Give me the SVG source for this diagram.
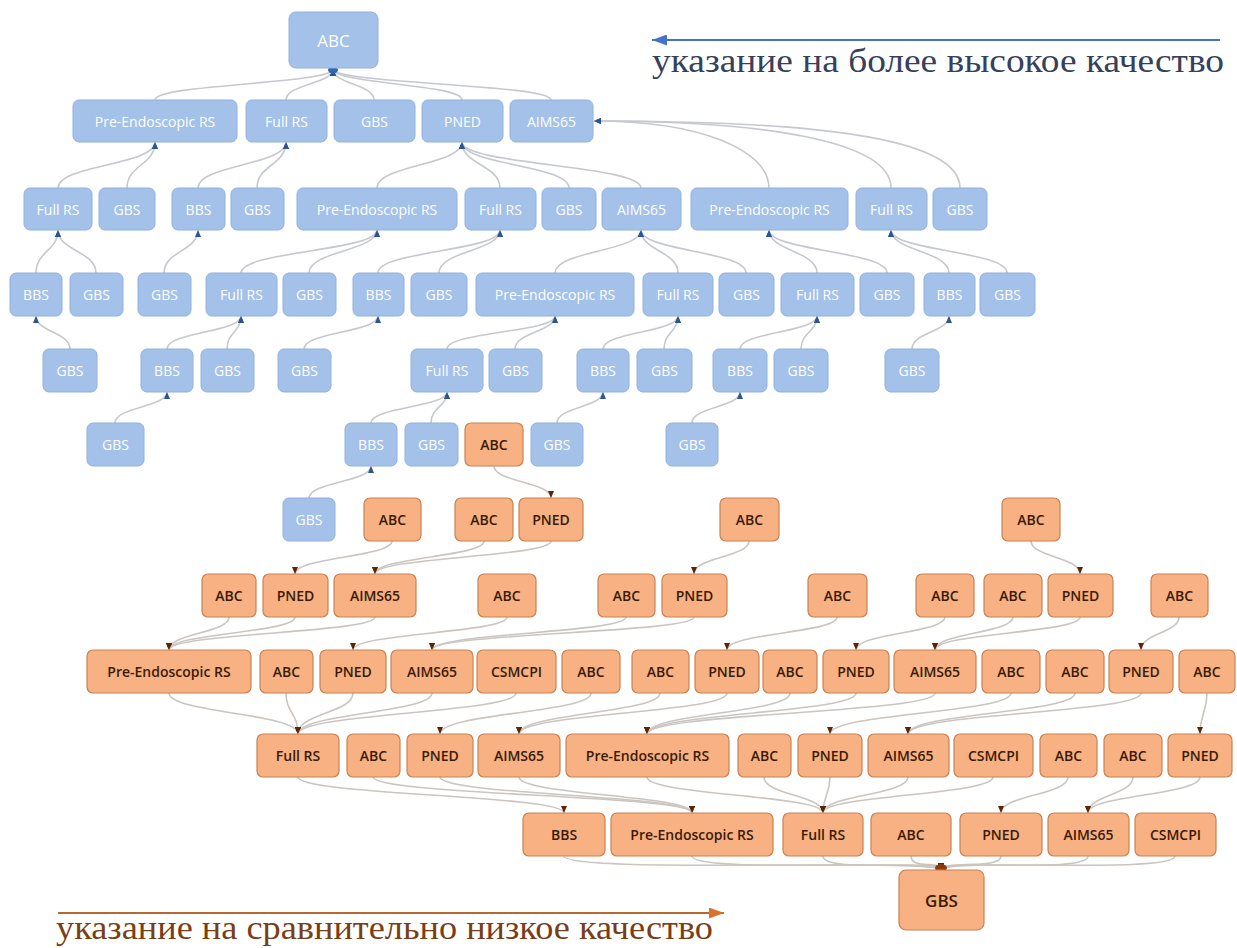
<svg xmlns="http://www.w3.org/2000/svg" width="1237" height="948" viewBox="0 0 1237 948">
<defs>
<marker id="ab" markerWidth="7" markerHeight="6" refX="7" refY="3" orient="auto" markerUnits="userSpaceOnUse"><path d="M0,0 L7,3 L0,6 z" fill="#2b5591"/></marker>
<marker id="ao" markerWidth="7" markerHeight="6" refX="7" refY="3" orient="auto" markerUnits="userSpaceOnUse"><path d="M0,0 L7,3 L0,6 z" fill="#5a260a"/></marker>
<marker id="capb" markerWidth="15" markerHeight="11" refX="15" refY="5.5" orient="auto" markerUnits="userSpaceOnUse"><path d="M0,0 L15,5.5 L0,11 z" fill="#4472c4"/></marker>
<marker id="capo" markerWidth="15" markerHeight="11" refX="15" refY="5.5" orient="auto" markerUnits="userSpaceOnUse"><path d="M0,0 L15,5.5 L0,11 z" fill="#d9722d"/></marker>
</defs>
<style>
.nb rect{fill:#a3c1e9;stroke:#90b0dd;stroke-width:1}
.nb text{fill:#ffffff;font-family:"Open Sans","Liberation Sans",sans-serif;font-size:14px;text-anchor:middle;dominant-baseline:central}
.no rect{fill:#f8b182;stroke:#c98152;stroke-width:1.2}
.no text{fill:#3a1a06;font-family:"Open Sans","Liberation Sans",sans-serif;font-size:14px;font-weight:600;text-anchor:middle;dominant-baseline:central}
.big text{font-size:17px}
.cb{fill:none;stroke:#c5c8ce;stroke-width:1.6;marker-end:url(#ab)}
.co{fill:none;stroke:#cbc4bf;stroke-width:1.6;marker-end:url(#ao)}
.cap{font-family:"Liberation Serif","DejaVu Serif",serif}
</style>
<rect width="1237" height="948" fill="#ffffff"/>

<g id="legend-high">
<path d="M1220,40 L652,40" stroke="#4472c4" stroke-width="2" fill="none" marker-end="url(#capb)"/>
<text class="cap" x="652" y="72" font-size="34" fill="#36405a" textLength="572" lengthAdjust="spacingAndGlyphs">указание на более высокое качество</text>
</g>
<g id="legend-low">
<path d="M58,913 L724,913" stroke="#b8682f" stroke-width="2" fill="none" marker-end="url(#capo)"/>
<text class="cap" x="56" y="939" font-size="34" fill="#7a3e17" textLength="657" lengthAdjust="spacingAndGlyphs">указание на сравнительно низкое качество</text>
</g>

<g id="connectors">
<path class="cb" d="M155,100 C155,84 333,84 333,69"/>
<path class="cb" d="M286,100 C286,84 333,84 333,69"/>
<path class="cb" d="M374,100 C374,84 333,84 333,69"/>
<path class="cb" d="M462,100 C462,84 333,84 333,69"/>
<path class="cb" d="M551,100 C551,84 333,84 333,69"/>
<path class="cb" d="M58,188 C58,165 155,165 155,142"/>
<path class="cb" d="M127,188 C127,165 155,165 155,142"/>
<path class="cb" d="M198,188 C198,165 286,165 286,142"/>
<path class="cb" d="M257,188 C257,165 286,165 286,142"/>
<path class="cb" d="M377,188 C377,165 462,165 462,142"/>
<path class="cb" d="M500,188 C500,165 462,165 462,142"/>
<path class="cb" d="M569,188 C569,165 462,165 462,142"/>
<path class="cb" d="M641,188 C641,165 462,165 462,142"/>
<path class="cb" d="M769,188 C769,150 700,121 594,121"/>
<path class="cb" d="M891,188 C891,140 760,121 594,121"/>
<path class="cb" d="M960,188 C960,135 800,121 594,121"/>
<path class="cb" d="M36,273 C36,251 58,251 58,230"/>
<path class="cb" d="M96,273 C96,251 58,251 58,230"/>
<path class="cb" d="M164,273 C164,251 198,251 198,230"/>
<path class="cb" d="M241,273 C241,251 377,251 377,230"/>
<path class="cb" d="M309,273 C309,251 377,251 377,230"/>
<path class="cb" d="M378,273 C378,251 500,251 500,230"/>
<path class="cb" d="M439,273 C439,251 500,251 500,230"/>
<path class="cb" d="M555,273 C555,251 641,251 641,230"/>
<path class="cb" d="M678,273 C678,251 641,251 641,230"/>
<path class="cb" d="M746,273 C746,251 641,251 641,230"/>
<path class="cb" d="M817,273 C817,251 769,251 769,230"/>
<path class="cb" d="M887,273 C887,251 769,251 769,230"/>
<path class="cb" d="M949,273 C949,251 891,251 891,230"/>
<path class="cb" d="M1007,273 C1007,251 891,251 891,230"/>
<path class="cb" d="M70,349 C70,332 36,332 36,316"/>
<path class="cb" d="M167,349 C167,332 241,332 241,316"/>
<path class="cb" d="M227,349 C227,332 241,332 241,316"/>
<path class="cb" d="M304,349 C304,332 378,332 378,316"/>
<path class="cb" d="M447,349 C447,332 555,332 555,316"/>
<path class="cb" d="M515,349 C515,332 555,332 555,316"/>
<path class="cb" d="M603,349 C603,332 678,332 678,316"/>
<path class="cb" d="M664,349 C664,332 678,332 678,316"/>
<path class="cb" d="M740,349 C740,332 817,332 817,316"/>
<path class="cb" d="M801,349 C801,332 817,332 817,316"/>
<path class="cb" d="M912,349 C912,332 949,332 949,316"/>
<path class="cb" d="M115,423 C115,407 167,407 167,392"/>
<path class="cb" d="M371,423 C371,407 447,407 447,392"/>
<path class="cb" d="M431,423 C431,407 447,407 447,392"/>
<path class="cb" d="M557,423 C557,407 603,407 603,392"/>
<path class="cb" d="M692,423 C692,407 740,407 740,392"/>
<path class="cb" d="M309,498 C309,482 371,482 371,466"/>
<ellipse cx="333" cy="70" rx="5" ry="3.5" fill="#2e66b0"/>

<path class="co" d="M494,466 C494,482 551,482 551,498"/>
<path class="co" d="M392,541 C392,557 295,557 295,574"/>
<path class="co" d="M484,541 C484,557 375,557 375,574"/>
<path class="co" d="M551,541 C551,557 375,557 375,574"/>
<path class="co" d="M749,541 C749,557 694,557 694,574"/>
<path class="co" d="M1031,541 C1031,557 1080,557 1080,574"/>
<path class="co" d="M229,617 C229,633 169,633 169,650"/>
<path class="co" d="M295,617 C295,633 169,633 169,650"/>
<path class="co" d="M375,617 C375,633 169,633 169,650"/>
<path class="co" d="M507,617 C507,633 353,633 353,650"/>
<path class="co" d="M626,617 C626,633 432,633 432,650"/>
<path class="co" d="M694,617 C694,633 432,633 432,650"/>
<path class="co" d="M837,617 C837,633 727,633 727,650"/>
<path class="co" d="M945,617 C945,633 856,633 856,650"/>
<path class="co" d="M1013,617 C1013,633 935,633 935,650"/>
<path class="co" d="M1080,617 C1080,633 935,633 935,650"/>
<path class="co" d="M1179,617 C1179,633 1141,633 1141,650"/>
<path class="co" d="M169,693 C169,713 298,713 298,734"/>
<path class="co" d="M286,693 C286,713 298,713 298,734"/>
<path class="co" d="M353,693 C353,713 298,713 298,734"/>
<path class="co" d="M432,693 C432,713 298,713 298,734"/>
<path class="co" d="M516,693 C516,713 298,713 298,734"/>
<path class="co" d="M591,693 C591,713 440,713 440,734"/>
<path class="co" d="M660,693 C660,713 519,713 519,734"/>
<path class="co" d="M727,693 C727,713 519,713 519,734"/>
<path class="co" d="M790,693 C790,713 647,713 647,734"/>
<path class="co" d="M856,693 C856,713 647,713 647,734"/>
<path class="co" d="M935,693 C935,713 647,713 647,734"/>
<path class="co" d="M1011,693 C1011,713 830,713 830,734"/>
<path class="co" d="M1075,693 C1075,713 908,713 908,734"/>
<path class="co" d="M1141,693 C1141,713 908,713 908,734"/>
<path class="co" d="M1207,693 C1207,713 1200,713 1200,734"/>
<path class="co" d="M298,777 C298,795 564,795 564,813"/>
<path class="co" d="M373,777 C373,795 692,795 692,813"/>
<path class="co" d="M440,777 C440,795 692,795 692,813"/>
<path class="co" d="M519,777 C519,795 692,795 692,813"/>
<path class="co" d="M647,777 C647,795 823,795 823,813"/>
<path class="co" d="M764,777 C764,795 823,795 823,813"/>
<path class="co" d="M830,777 C830,795 823,795 823,813"/>
<path class="co" d="M908,777 C908,795 823,795 823,813"/>
<path class="co" d="M993,777 C993,795 823,795 823,813"/>
<path class="co" d="M1068,777 C1068,795 1001,795 1001,813"/>
<path class="co" d="M1133,777 C1133,795 1088,795 1088,813"/>
<path class="co" d="M1200,777 C1200,795 1088,795 1088,813"/>
<path class="co" d="M564,856 C564,874 941,858 941,870"/>
<path class="co" d="M692,856 C692,874 941,858 941,870"/>
<path class="co" d="M823,856 C823,874 941,858 941,870"/>
<path class="co" d="M911,856 C911,870 941,860 941,870"/>
<path class="co" d="M1001,856 C1001,870 941,860 941,870"/>
<path class="co" d="M1088,856 C1088,874 941,858 941,870"/>
<path class="co" d="M1175,856 C1175,874 941,858 941,870"/>
<ellipse cx="941" cy="868" rx="6" ry="4" fill="#8a3a10"/>
</g>

<g id="b0" class="nb big"><rect x="289" y="12" width="89" height="56" rx="7"/><text x="333.5" y="40">ABC</text></g>
<g id="b1a" class="nb"><rect x="73" y="100" width="164" height="42" rx="6"/><text x="155" y="121">Pre-Endoscopic RS</text></g>
<g id="b1b" class="nb"><rect x="246" y="100" width="81" height="42" rx="6"/><text x="286.5" y="121">Full RS</text></g>
<g id="b1c" class="nb"><rect x="334" y="100" width="81" height="42" rx="6"/><text x="374.5" y="121">GBS</text></g>
<g id="b1d" class="nb"><rect x="422" y="100" width="81" height="42" rx="6"/><text x="462.5" y="121">PNED</text></g>
<g id="b1e" class="nb"><rect x="510" y="100" width="83" height="42" rx="6"/><text x="551.5" y="121">AIMS65</text></g>

<g id="b2a" class="nb"><rect x="24" y="188" width="68" height="42" rx="6"/><text x="58" y="209">Full RS</text></g>
<g id="b2b" class="nb"><rect x="99" y="188" width="56" height="42" rx="6"/><text x="127" y="209">GBS</text></g>
<g id="b2c" class="nb"><rect x="172" y="188" width="53" height="42" rx="6"/><text x="198.5" y="209">BBS</text></g>
<g id="b2d" class="nb"><rect x="231" y="188" width="53" height="42" rx="6"/><text x="257.5" y="209">GBS</text></g>
<g id="b2e" class="nb"><rect x="297" y="188" width="160" height="42" rx="6"/><text x="377" y="209">Pre-Endoscopic RS</text></g>
<g id="b2f" class="nb"><rect x="465" y="188" width="71" height="42" rx="6"/><text x="500.5" y="209">Full RS</text></g>
<g id="b2g" class="nb"><rect x="542" y="188" width="54" height="42" rx="6"/><text x="569" y="209">GBS</text></g>
<g id="b2h" class="nb"><rect x="602" y="188" width="79" height="42" rx="6"/><text x="641.5" y="209">AIMS65</text></g>
<g id="b2i" class="nb"><rect x="691" y="188" width="157" height="42" rx="6"/><text x="769.5" y="209">Pre-Endoscopic RS</text></g>
<g id="b2j" class="nb"><rect x="856" y="188" width="71" height="42" rx="6"/><text x="891.5" y="209">Full RS</text></g>
<g id="b2k" class="nb"><rect x="933" y="188" width="54" height="42" rx="6"/><text x="960" y="209">GBS</text></g>

<g id="b3a" class="nb"><rect x="10" y="273" width="52" height="43" rx="6"/><text x="36" y="294.5">BBS</text></g>
<g id="b3b" class="nb"><rect x="70" y="273" width="53" height="43" rx="6"/><text x="96.5" y="294.5">GBS</text></g>
<g id="b3c" class="nb"><rect x="138" y="273" width="53" height="43" rx="6"/><text x="164.5" y="294.5">GBS</text></g>
<g id="b3d" class="nb"><rect x="206" y="273" width="71" height="43" rx="6"/><text x="241.5" y="294.5">Full RS</text></g>
<g id="b3e" class="nb"><rect x="283" y="273" width="53" height="43" rx="6"/><text x="309.5" y="294.5">GBS</text></g>
<g id="b3f" class="nb"><rect x="353" y="273" width="51" height="43" rx="6"/><text x="378.5" y="294.5">BBS</text></g>
<g id="b3g" class="nb"><rect x="411" y="273" width="56" height="43" rx="6"/><text x="439" y="294.5">GBS</text></g>
<g id="b3h" class="nb"><rect x="476" y="273" width="158" height="43" rx="6"/><text x="555" y="294.5">Pre-Endoscopic RS</text></g>
<g id="b3i" class="nb"><rect x="643" y="273" width="70" height="43" rx="6"/><text x="678" y="294.5">Full RS</text></g>
<g id="b3j" class="nb"><rect x="719" y="273" width="55" height="43" rx="6"/><text x="746.5" y="294.5">GBS</text></g>
<g id="b3k" class="nb"><rect x="781" y="273" width="73" height="43" rx="6"/><text x="817.5" y="294.5">Full RS</text></g>
<g id="b3l" class="nb"><rect x="860" y="273" width="54" height="43" rx="6"/><text x="887" y="294.5">GBS</text></g>
<g id="b3m" class="nb"><rect x="924" y="273" width="51" height="43" rx="6"/><text x="949.5" y="294.5">BBS</text></g>
<g id="b3n" class="nb"><rect x="980" y="273" width="55" height="43" rx="6"/><text x="1007.5" y="294.5">GBS</text></g>

<g id="b4a" class="nb"><rect x="43" y="349" width="54" height="43" rx="6"/><text x="70" y="370.5">GBS</text></g>
<g id="b4b" class="nb"><rect x="141" y="349" width="52" height="43" rx="6"/><text x="167" y="370.5">BBS</text></g>
<g id="b4c" class="nb"><rect x="201" y="349" width="53" height="43" rx="6"/><text x="227.5" y="370.5">GBS</text></g>
<g id="b4d" class="nb"><rect x="278" y="349" width="53" height="43" rx="6"/><text x="304.5" y="370.5">GBS</text></g>
<g id="b4e" class="nb"><rect x="411" y="349" width="72" height="43" rx="6"/><text x="447" y="370.5">Full RS</text></g>
<g id="b4f" class="nb"><rect x="489" y="349" width="53" height="43" rx="6"/><text x="515.5" y="370.5">GBS</text></g>
<g id="b4g" class="nb"><rect x="577" y="349" width="52" height="43" rx="6"/><text x="603" y="370.5">BBS</text></g>
<g id="b4h" class="nb"><rect x="637" y="349" width="55" height="43" rx="6"/><text x="664.5" y="370.5">GBS</text></g>
<g id="b4i" class="nb"><rect x="713" y="349" width="54" height="43" rx="6"/><text x="740" y="370.5">BBS</text></g>
<g id="b4j" class="nb"><rect x="774" y="349" width="54" height="43" rx="6"/><text x="801" y="370.5">GBS</text></g>
<g id="b4k" class="nb"><rect x="885" y="349" width="54" height="43" rx="6"/><text x="912" y="370.5">GBS</text></g>

<g id="b5a" class="nb"><rect x="87" y="423" width="57" height="43" rx="6"/><text x="115.5" y="444.5">GBS</text></g>
<g id="b5b" class="nb"><rect x="345" y="423" width="52" height="43" rx="6"/><text x="371" y="444.5">BBS</text></g>
<g id="b5c" class="nb"><rect x="405" y="423" width="53" height="43" rx="6"/><text x="431.5" y="444.5">GBS</text></g>
<g id="o5" class="no"><rect x="465" y="423" width="58" height="43" rx="6"/><text x="494" y="444.5">ABC</text></g>
<g id="b5d" class="nb"><rect x="531" y="423" width="52" height="43" rx="6"/><text x="557" y="444.5">GBS</text></g>
<g id="b5e" class="nb"><rect x="666" y="423" width="52" height="43" rx="6"/><text x="692" y="444.5">GBS</text></g>

<g id="b6a" class="nb"><rect x="283" y="498" width="52" height="43" rx="6"/><text x="309" y="519.5">GBS</text></g>
<g id="o6a" class="no"><rect x="364" y="498" width="57" height="43" rx="6"/><text x="392.5" y="519.5">ABC</text></g>
<g id="o6b" class="no"><rect x="455" y="498" width="58" height="43" rx="6"/><text x="484" y="519.5">ABC</text></g>
<g id="o6c" class="no"><rect x="519" y="498" width="64" height="43" rx="6"/><text x="551" y="519.5">PNED</text></g>
<g id="o6d" class="no"><rect x="720" y="498" width="59" height="43" rx="6"/><text x="749.5" y="519.5">ABC</text></g>
<g id="o6e" class="no"><rect x="1002" y="498" width="58" height="43" rx="6"/><text x="1031" y="519.5">ABC</text></g>

<g id="o7a" class="no"><rect x="202" y="574" width="54" height="43" rx="6"/><text x="229" y="595.5">ABC</text></g>
<g id="o7b" class="no"><rect x="263" y="574" width="65" height="43" rx="6"/><text x="295.5" y="595.5">PNED</text></g>
<g id="o7c" class="no"><rect x="334" y="574" width="82" height="43" rx="6"/><text x="375" y="595.5">AIMS65</text></g>
<g id="o7d" class="no"><rect x="478" y="574" width="58" height="43" rx="6"/><text x="507" y="595.5">ABC</text></g>
<g id="o7e" class="no"><rect x="598" y="574" width="57" height="43" rx="6"/><text x="626.5" y="595.5">ABC</text></g>
<g id="o7f" class="no"><rect x="662" y="574" width="65" height="43" rx="6"/><text x="694.5" y="595.5">PNED</text></g>
<g id="o7g" class="no"><rect x="808" y="574" width="59" height="43" rx="6"/><text x="837.5" y="595.5">ABC</text></g>
<g id="o7h" class="no"><rect x="916" y="574" width="58" height="43" rx="6"/><text x="945" y="595.5">ABC</text></g>
<g id="o7i" class="no"><rect x="984" y="574" width="58" height="43" rx="6"/><text x="1013" y="595.5">ABC</text></g>
<g id="o7j" class="no"><rect x="1048" y="574" width="65" height="43" rx="6"/><text x="1080.5" y="595.5">PNED</text></g>
<g id="o7k" class="no"><rect x="1151" y="574" width="57" height="43" rx="6"/><text x="1179.5" y="595.5">ABC</text></g>

<g id="o8a" class="no"><rect x="87" y="650" width="164" height="43" rx="6"/><text x="169" y="671.5">Pre-Endoscopic RS</text></g>
<g id="o8b" class="no"><rect x="260" y="650" width="53" height="43" rx="6"/><text x="286.5" y="671.5">ABC</text></g>
<g id="o8c" class="no"><rect x="320" y="650" width="66" height="43" rx="6"/><text x="353" y="671.5">PNED</text></g>
<g id="o8d" class="no"><rect x="391" y="650" width="82" height="43" rx="6"/><text x="432" y="671.5">AIMS65</text></g>
<g id="o8e" class="no"><rect x="477" y="650" width="79" height="43" rx="6"/><text x="516.5" y="671.5">CSMCPI</text></g>
<g id="o8f" class="no"><rect x="562" y="650" width="58" height="43" rx="6"/><text x="591" y="671.5">ABC</text></g>
<g id="o8g" class="no"><rect x="632" y="650" width="57" height="43" rx="6"/><text x="660.5" y="671.5">ABC</text></g>
<g id="o8h" class="no"><rect x="695" y="650" width="64" height="43" rx="6"/><text x="727" y="671.5">PNED</text></g>
<g id="o8i" class="no"><rect x="763" y="650" width="54" height="43" rx="6"/><text x="790" y="671.5">ABC</text></g>
<g id="o8j" class="no"><rect x="823" y="650" width="66" height="43" rx="6"/><text x="856" y="671.5">PNED</text></g>
<g id="o8k" class="no"><rect x="894" y="650" width="82" height="43" rx="6"/><text x="935" y="671.5">AIMS65</text></g>
<g id="o8l" class="no"><rect x="982" y="650" width="58" height="43" rx="6"/><text x="1011" y="671.5">ABC</text></g>
<g id="o8m" class="no"><rect x="1046" y="650" width="58" height="43" rx="6"/><text x="1075" y="671.5">ABC</text></g>
<g id="o8n" class="no"><rect x="1109" y="650" width="64" height="43" rx="6"/><text x="1141" y="671.5">PNED</text></g>
<g id="o8o" class="no"><rect x="1179" y="650" width="56" height="43" rx="6"/><text x="1207" y="671.5">ABC</text></g>

<g id="o9a" class="no"><rect x="257" y="734" width="82" height="43" rx="6"/><text x="298" y="755.5">Full RS</text></g>
<g id="o9b" class="no"><rect x="347" y="734" width="53" height="43" rx="6"/><text x="373.5" y="755.5">ABC</text></g>
<g id="o9c" class="no"><rect x="407" y="734" width="66" height="43" rx="6"/><text x="440" y="755.5">PNED</text></g>
<g id="o9d" class="no"><rect x="478" y="734" width="82" height="43" rx="6"/><text x="519" y="755.5">AIMS65</text></g>
<g id="o9e" class="no"><rect x="566" y="734" width="163" height="43" rx="6"/><text x="647.5" y="755.5">Pre-Endoscopic RS</text></g>
<g id="o9f" class="no"><rect x="738" y="734" width="53" height="43" rx="6"/><text x="764.5" y="755.5">ABC</text></g>
<g id="o9g" class="no"><rect x="798" y="734" width="64" height="43" rx="6"/><text x="830" y="755.5">PNED</text></g>
<g id="o9h" class="no"><rect x="868" y="734" width="81" height="43" rx="6"/><text x="908.5" y="755.5">AIMS65</text></g>
<g id="o9i" class="no"><rect x="954" y="734" width="79" height="43" rx="6"/><text x="993.5" y="755.5">CSMCPI</text></g>
<g id="o9j" class="no"><rect x="1040" y="734" width="57" height="43" rx="6"/><text x="1068.5" y="755.5">ABC</text></g>
<g id="o9k" class="no"><rect x="1104" y="734" width="58" height="43" rx="6"/><text x="1133" y="755.5">ABC</text></g>
<g id="o9l" class="no"><rect x="1168" y="734" width="64" height="43" rx="6"/><text x="1200" y="755.5">PNED</text></g>

<g id="o10a" class="no"><rect x="523" y="813" width="82" height="43" rx="6"/><text x="564" y="834.5">BBS</text></g>
<g id="o10b" class="no"><rect x="611" y="813" width="162" height="43" rx="6"/><text x="692" y="834.5">Pre-Endoscopic RS</text></g>
<g id="o10c" class="no"><rect x="783" y="813" width="80" height="43" rx="6"/><text x="823" y="834.5">Full RS</text></g>
<g id="o10d" class="no"><rect x="871" y="813" width="80" height="43" rx="6"/><text x="911" y="834.5">ABC</text></g>
<g id="o10e" class="no"><rect x="960" y="813" width="82" height="43" rx="6"/><text x="1001" y="834.5">PNED</text></g>
<g id="o10f" class="no"><rect x="1048" y="813" width="81" height="43" rx="6"/><text x="1088.5" y="834.5">AIMS65</text></g>
<g id="o10g" class="no"><rect x="1135" y="813" width="81" height="43" rx="6"/><text x="1175.5" y="834.5">CSMCPI</text></g>

<g id="o11" class="no big"><rect x="899" y="870" width="85" height="60" rx="7"/><text x="941.5" y="900">GBS</text></g>
</svg>
